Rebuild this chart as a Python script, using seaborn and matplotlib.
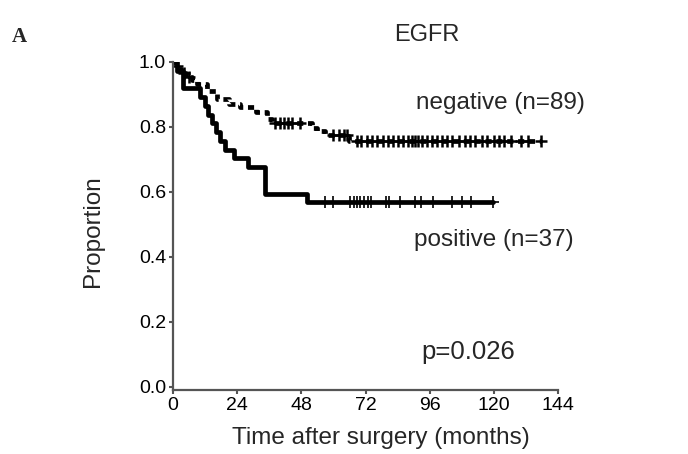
import numpy as np
import pandas as pd
import matplotlib
matplotlib.use("Agg")
import matplotlib.pyplot as plt
import seaborn as sns

# Kaplan-Meier step data
pos_times = [0, 1.5, 3.7, 10, 12, 13, 14.5, 16, 17.5, 19.5, 23, 28, 34.5, 50, 119.7]
pos_surv = [1.0, 0.973, 0.919, 0.892, 0.865, 0.838, 0.811, 0.784, 0.757, 0.730, 0.703, 0.676, 0.595, 0.568, 0.568]
pos_censor = [56.8, 59.7, 66.2, 67.7, 68.7, 69.9, 71.4, 72.9, 74.0, 79.7, 80.8, 84.9,
              90.5, 92.7, 97.2, 104.3, 108.1, 111.4, 119.7]

neg_times = [0, 1, 2, 3, 5, 7, 9, 12.6, 16.5, 21, 25, 31, 35, 37, 52, 54, 57, 65, 66, 137.8]
neg_surv = [1.0, 0.989, 0.978, 0.966, 0.955, 0.944, 0.933, 0.912, 0.885, 0.870, 0.860, 0.845,
            0.825, 0.811, 0.798, 0.789, 0.776, 0.770, 0.758, 0.758]
neg_censor = [1.5, 4, 6, 38, 40, 41.5, 43, 44.5, 47.5, 60, 62, 64,
              64.9, 68.7, 70.5, 72.4, 74.3, 76.2, 78.5, 80.4, 82.3, 84.2, 86.1, 88.0, 89.3,
              90.5, 91.7, 93.0, 94.9, 96.8, 98.6, 100.5, 102.4, 104.3, 106.8, 109.3, 111.2,
              113.1, 115.6, 117.5, 120.0, 121.9, 123.8, 126.3, 130.1, 132.6, 137.8]

x_ticks = [0, 24, 48, 72, 96, 120, 144]
y_ticks = [0.0, 0.2, 0.4, 0.6, 0.8, 1.0]


def surv_at(t, times, surv):
    idx = np.searchsorted(np.array(times), t, side="right") - 1
    return np.array(surv)[idx]


sns.set_theme(style="white")
plt.rcParams["font.family"] = ["Liberation Sans", "DejaVu Sans"]

fig = plt.figure(figsize=(6.88, 4.54), dpi=100)
ax = fig.add_axes([173 / 688, 1 - 390 / 454, (558 - 173) / 688, (390 - 62) / 454])

pos_df = pd.DataFrame({"t": pos_times, "s": pos_surv})
neg_df = pd.DataFrame({"t": neg_times, "s": neg_surv})

sns.lineplot(data=neg_df, x="t", y="s", ax=ax, color="black", lw=3.4,
             drawstyle="steps-post", linestyle=(0, (1.3, 1.0)), estimator=None, sort=False)
sns.lineplot(data=pos_df, x="t", y="s", ax=ax, color="black", lw=3.4,
             drawstyle="steps-post", estimator=None, sort=False)

pc = pd.DataFrame({"t": pos_censor, "s": surv_at(pos_censor, pos_times, pos_surv)})
nc = pd.DataFrame({"t": neg_censor, "s": surv_at(neg_censor, neg_times, neg_surv)})
sns.scatterplot(data=pc, x="t", y="s", ax=ax, marker="+", s=70, color="black", linewidth=1.2)
sns.scatterplot(data=nc, x="t", y="s", ax=ax, marker="+", s=70, color="black", linewidth=1.8)

ax.set_xlim(0, 144)
ax.set_ylim(-0.01, 1.0)
ax.set_xticks(x_ticks)
ax.set_yticks(y_ticks)
ax.set_xticklabels([str(v) for v in x_ticks], fontsize=14)
ax.set_yticklabels([f"{v:.1f}" for v in y_ticks], fontsize=14)
ax.set_xlabel("Time after surgery (months)", fontsize=17.5)
ax.set_ylabel("Proportion", fontsize=17.5)
ax.xaxis.set_label_coords((381 - 173) / 385, -(438 - 390) / 328 + 0.0, transform=ax.transAxes)
ax.yaxis.set_label_coords(-(173 - 93) / 385, (390 - 231) / 328, transform=ax.transAxes)
ax.xaxis.label.set_va("center")
ax.yaxis.label.set_va("center")

for side in ["top", "right"]:
    ax.spines[side].set_visible(False)
for side in ["left", "bottom"]:
    ax.spines[side].set_color("#555555")
    ax.spines[side].set_linewidth(1.6)
ax.tick_params(axis="both", direction="out", length=3, width=1.5, color="#555555",
               bottom=True, left=True, pad=2, labelcolor="black")

fig.text(427 / 688, 1 - 35 / 454, "EGFR", ha="center", va="center", fontsize=17)
fig.text(12 / 688, 1 - 37 / 454, "A", ha="left", va="center", fontsize=15,
         fontweight="bold", family=["Liberation Serif", "DejaVu Serif"])
fig.text(500 / 688, 1 - 103 / 454, "negative (n=89)", ha="center", va="center", fontsize=17.5)
fig.text(494 / 688, 1 - 240 / 454, "positive (n=37)", ha="center", va="center", fontsize=17.5)
fig.text(468 / 688, 1 - 352 / 454, "p=0.026", ha="center", va="center", fontsize=18.5)

fig.savefig("out.png", dpi=100)
